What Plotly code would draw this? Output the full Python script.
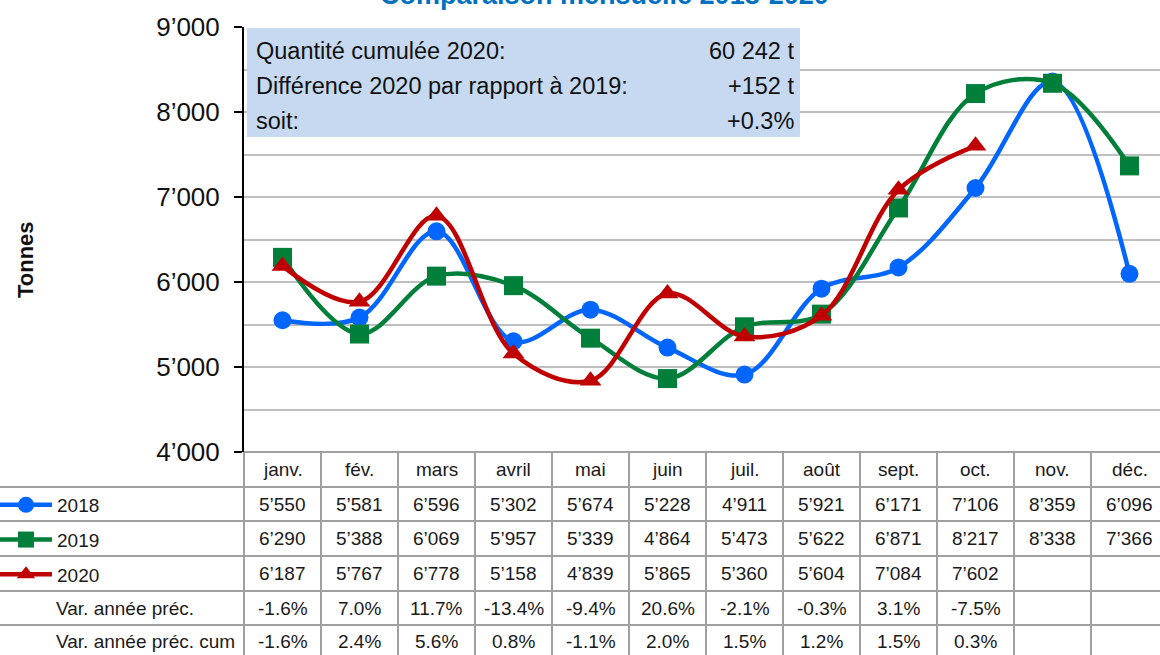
import plotly.graph_objects as go

months = ["janv.", "fév.", "mars", "avril", "mai", "juin", "juil.", "août", "sept.", "oct.", "nov.", "déc."]
v2018 = [5550, 5581, 6596, 5302, 5674, 5228, 4911, 5921, 6171, 7106, 8359, 6096]
v2019 = [6290, 5388, 6069, 5957, 5339, 4864, 5473, 5622, 6871, 8217, 8338, 7366]
v2020 = [6187, 5767, 6778, 5158, 4839, 5865, 5360, 5604, 7084, 7602]
var_prev = ["-1.6%", "7.0%", "11.7%", "-13.4%", "-9.4%", "20.6%", "-2.1%", "-0.3%", "3.1%", "-7.5%"]
var_cum = ["-1.6%", "2.4%", "5.6%", "0.8%", "-1.1%", "2.0%", "1.5%", "1.2%", "1.5%", "0.3%"]
series_names = ["2018", "2019", "2020"]
row_labels = ["Var. année préc.", "Var. année préc. cum"]
summary_labels = ["Quantité cumulée 2020:", "Différence 2020 par rapport à 2019:", "soit:"]
summary_values = ["60 242 t", "+152 t", "+0.3%"]
title_text = "Comparaison mensuelle 2018-2020"
y_title = "Tonnes"

FONT = "Liberation Sans, Arial, sans-serif"
W_FIG, H_FIG = 1160, 655
L, T, B = 244, 27, 203
PW = W_FIG - L
PH = H_FIG - T - B
BOTTOM = H_FIG - B


def px_x(p):
    return (p - L) / PW


def px_y(p):
    return (BOTTOM - p) / PH


def fmt(v):
    return "{:,}".format(v).replace(",", "’")


colors = ["#0066FF", "#007F3A", "#C00000"]
symbols = ["circle", "square", "triangle-up"]
msizes = [18, 19, 19]

fig = go.Figure()
for name, vals, c, s, ms in zip(series_names, [v2018, v2019, v2020], colors, symbols, msizes):
    fig.add_trace(go.Scatter(
        x=months[:len(vals)], y=vals, name=name, mode="lines+markers",
        line=dict(color=c, width=4.5, shape="spline", smoothing=1.0),
        marker=dict(symbol=s, size=ms, color=c),
        legendgroup=name,
    ))

shapes = []
annotations = []

# summary box
shapes.append(dict(type="rect", xref="paper", yref="paper",
                   x0=px_x(247), x1=px_x(800), y0=px_y(137), y1=px_y(28),
                   fillcolor="#C6D9F1", line=dict(width=0), layer="above"))
for i, (lab, val) in enumerate(zip(summary_labels, summary_values)):
    yy = px_y(51 + i * 35)
    annotations.append(dict(xref="paper", yref="paper", x=px_x(254), y=yy, text=lab,
                            showarrow=False, xanchor="left", yanchor="middle",
                            font=dict(size=23.5, color="#111111", family=FONT)))
    annotations.append(dict(xref="paper", yref="paper", x=px_x(796), y=yy, text=val,
                            showarrow=False, xanchor="right", yanchor="middle",
                            font=dict(size=23.5, color="#111111", family=FONT)))

# table grid
row_tops = [452, 487, 521, 556, 591, 625]
row_centers = [469.5, 504, 538.5, 573.5, 608, 641]
grid_col = "#A0A0A0"
for yb in row_tops[1:]:
    shapes.append(dict(type="line", xref="paper", yref="paper",
                       x0=px_x(0), x1=1, y0=px_y(yb), y1=px_y(yb),
                       line=dict(color=grid_col, width=2)))
shapes.append(dict(type="line", xref="paper", yref="paper",
                   x0=0, x1=1, y0=0, y1=0, line=dict(color=grid_col, width=2)))
shapes.append(dict(type="line", xref="paper", yref="paper",
                   x0=0, x1=0, y0=0, y1=px_y(H_FIG), line=dict(color=grid_col, width=2)))
for i in range(len(months)):
    shapes.append(dict(type="line", xref="x", yref="paper",
                       x0=i + 0.5, x1=i + 0.5, y0=0, y1=px_y(H_FIG),
                       line=dict(color=grid_col, width=2)))

cell_font = dict(size=19, color="#1a1a1a", family=FONT)
rows = [months, [fmt(v) for v in v2018], [fmt(v) for v in v2019], [fmt(v) for v in v2020], var_prev, var_cum]
for r, (cells, yc) in enumerate(zip(rows, row_centers)):
    for i, txt in enumerate(cells):
        annotations.append(dict(xref="x", yref="paper", x=months[i], y=px_y(yc), text=txt,
                                showarrow=False, xanchor="center", yanchor="middle", font=cell_font))
for lab, yc in zip(row_labels, row_centers[4:]):
    annotations.append(dict(xref="paper", yref="paper", x=px_x(54), y=px_y(yc), text=lab,
                            showarrow=False, xanchor="left", yanchor="middle", font=cell_font))

# title (partly cut off at top, as in the reference)
annotations.append(dict(xref="paper", yref="paper", x=px_x(604), y=px_y(-5), text="<b>" + title_text + "</b>",
                        showarrow=False, xanchor="center", yanchor="middle",
                        font=dict(size=27, color="#0070C0", family=FONT)))
# y title
annotations.append(dict(xref="paper", yref="paper", x=px_x(25), y=px_y(260), text="<b>" + y_title + "</b>",
                        showarrow=False, xanchor="center", yanchor="middle", textangle=-90,
                        font=dict(size=22, color="#111111", family=FONT)))

fig.update_layout(
    width=W_FIG, height=H_FIG,
    margin=dict(l=L, r=0, t=T, b=B, autoexpand=False),
    paper_bgcolor="white", plot_bgcolor="white",
    separators=".’",
    font=dict(family=FONT, color="#111111"),
    showlegend=True,
    legend=dict(x=px_x(-5), y=px_y(486), xanchor="left", yanchor="top",
                font=dict(size=19, color="#1a1a1a", family=FONT),
                tracegroupgap=7, bgcolor="rgba(0,0,0,0)", itemwidth=52,
                traceorder="grouped"),
    xaxis=dict(type="category", range=[-0.5, 11.5 - (12 * 77 - PW) / 77.0],
               showticklabels=False, showgrid=False, zeroline=False, showline=False, ticks=""),
    yaxis=dict(range=[4000, 9000], dtick=1000, tickformat=",d",
               showgrid=True, gridcolor="#BFBFBF", gridwidth=1.5,
               minor=dict(dtick=500, showgrid=True, gridcolor="#BFBFBF", gridwidth=1.5),
               showline=True, linecolor="#000000", linewidth=2,
               ticks="outside", ticklen=8, tickcolor="#000000", tickwidth=2,
               ticklabelstandoff=9,
               tickfont=dict(size=26, color="#111111", family=FONT), zeroline=False),
    shapes=shapes, annotations=annotations,
)

fig.write_html("out.html", config={"displayModeBar": False},
               post_script="document.body.style.margin='0';document.body.style.overflow='hidden';")
